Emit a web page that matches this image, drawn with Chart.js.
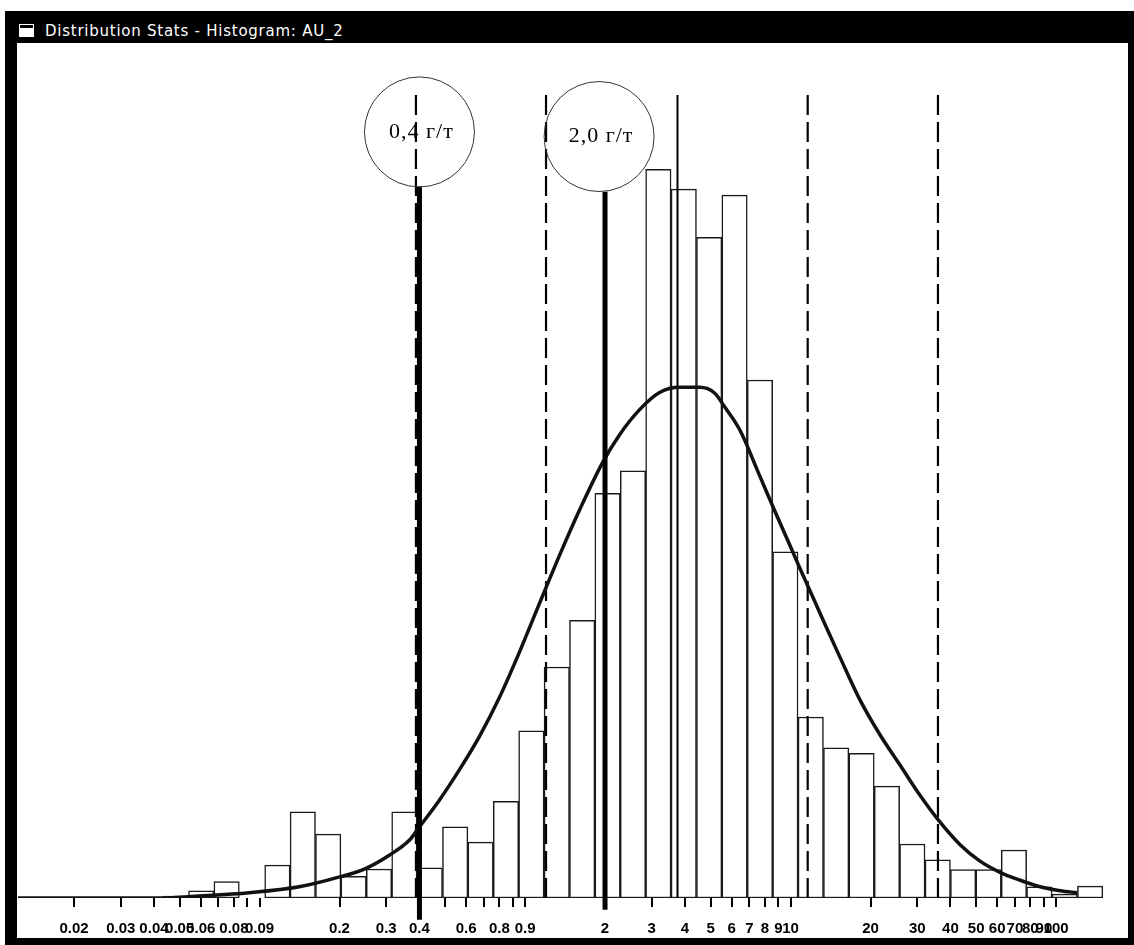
<!DOCTYPE html>
<html lang="en">
<head>
  <meta charset="UTF-8">
  <title>Distribution Stats - Histogram: AU_2</title>
  <script src="https://cdn.jsdelivr.net/npm/chart.js"></script>
  <style>
    body { margin: 0; background: #fff; }
    #win { position: absolute; left: 5px; top: 11px; width: 1129px; height: 934px; background: #000; }
    #icon { position: absolute; left: 15px; top: 14px; width: 13px; height: 8px; background: #fff; border-top: 3px solid #000; box-shadow: 0 0 0 1px #fff; }
    #title { position: absolute; left: 40px; top: 11px; color: #fff; font: 15px "DejaVu Sans", sans-serif; letter-spacing: 0.75px; white-space: nowrap; }
    #pane { position: absolute; left: 12px; top: 32px; width: 1111px; height: 895px; background: #fff; }
    #wrap { position: absolute; left: 0; top: 0; width: 1134px; height: 945px; }
  </style>
</head>
<body>
  <div id="win">
    <div id="icon"></div>
    <div id="title">Distribution Stats - Histogram: AU_2</div>
    <div id="pane"></div>
  </div>
  <div id="wrap"><canvas id="myChart" width="1134" height="945"></canvas></div>

  <script>
    // histogram bins: equal log steps from binFrom to binTo (g/t)
    const binFrom = 0.0433;
    const binTo = 150;
    // frequency, % of samples
    const freq = [0.03, 0.11, 0.25, 0, 0.50, 1.31, 0.97, 0.33, 0.44, 1.31,
                  0.46, 1.08, 0.85, 1.47, 2.54, 3.51, 4.22, 6.15, 6.49, 11.07,
                  10.77, 10.04, 10.68, 7.87, 5.26, 2.75, 2.28, 2.20, 1.70, 0.82,
                  0.58, 0.43, 0.43, 0.73, 0.17, 0.06, 0.18];

    // fitted curve
    const curveX = [0.0123, 0.0418, 0.0592, 0.0914, 0.141, 0.200, 0.248, 0.308, 0.367, 0.40,
                    0.476, 0.566, 0.674, 0.801, 0.953, 1.134, 1.349, 1.605, 1.96, 2.27,
                    2.70, 3.21, 3.82, 4.55, 5.18, 5.65, 6.44, 7.66, 8.72, 9.94,
                    10.84, 12.35, 13.82, 15.34, 18.25, 21.71, 25.83, 30.72, 35.93, 43.5,
                    51.7, 61.5, 73.2, 87.1, 103.6, 120.1];
    const curveY = [0, 0, 0.03, 0.08, 0.17, 0.32, 0.44, 0.65, 0.88, 1.08,
                    1.49, 1.95, 2.46, 3.05, 3.74, 4.48, 5.21, 5.90, 6.62, 7.04,
                    7.42, 7.68, 7.76, 7.76, 7.67, 7.46, 7.11, 6.41, 5.88, 5.36,
                    5.01, 4.50, 4.06, 3.66, 3.01, 2.48, 2.02, 1.56, 1.19, 0.81,
                    0.56, 0.39, 0.27, 0.17, 0.11, 0.08];

    // mean and +-1, +-2 sigma
    const dashedLines = [0.388, 1.199, 11.6, 35.9];
    const meanLine = 3.75;
    const statTop = 12.2;

    // cut-off grades
    const cutoffs = [0.4, 2.0];
    const cutoffLabels = ['0,4 г/т', '2,0 г/т'];
    const cutoffCircleX = [0.4, 1.9];
    const cutoffCircleY = [11.64, 11.57];
    const cutoffLineTop = [10.81, 10.73];
    const cutoffLineBottom = [-0.33, -0.18];

    const tickValues = [0.02, 0.03, 0.04, 0.05, 0.06, 0.07, 0.08, 0.09, 0.1, 0.2, 0.3, 0.4,
                        0.5, 0.6, 0.7, 0.8, 0.9, 1, 2, 3, 4, 5, 6, 7, 8, 9, 10,
                        20, 30, 40, 50, 60, 70, 80, 90, 100];
    const tickLabels = ['0.02', '0.03', '0.04', '0.05', '0.06', '', '0.08', '', '0.09', '0.2', '0.3', '0.4',
                        '', '0.6', '', '0.8', '', '0.9', '2', '3', '4', '5', '6', '7', '8', '9', '10',
                        '20', '30', '40', '50', '60', '70', '80', '90', '100'];

    const xMin = 0.0123;
    const xMax = 183.4;
    const yMax = 12.9;

    const step = Math.log10(binTo / binFrom) / freq.length;
    const bars = freq.map((f, i) => ({x: binFrom * Math.pow(10, (i + 0.5) * step), y: f}));

    const vline = (x, y0, y1, width, dash, order) => ({
      type: 'line',
      xAxisID: 'x',
      data: [{x: x, y: y0}, {x: x, y: y1}],
      borderColor: '#000',
      borderWidth: width,
      borderDash: dash,
      borderCapStyle: 'butt',
      pointRadius: 0,
      clip: false,
      order: order
    });

    const datasets = [];
    datasets.push({
      type: 'bar',
      data: bars,
      xAxisID: 'xb',
      grouped: false,
      backgroundColor: '#fff',
      borderColor: '#1a1a1a',
      borderWidth: 1.5,
      borderSkipped: false,
      barPercentage: 1,
      categoryPercentage: 1,
      order: 10
    });
    dashedLines.forEach(v => datasets.push(vline(v, 0, statTop, 2.2, [20, 7], 5)));
    datasets.push(vline(meanLine, 0, statTop, 2, [], 5));
    datasets.push({
      type: 'line',
      xAxisID: 'x',
      data: curveX.map((x, i) => ({x: x, y: curveY[i]})),
      borderColor: '#111',
      borderWidth: 3.5,
      cubicInterpolationMode: 'monotone',
      pointRadius: 0,
      order: 3
    });
    cutoffs.forEach((v, i) => datasets.push(vline(v, cutoffLineTop[i], cutoffLineBottom[i], 5, [], 2)));
    datasets.push({
      type: 'scatter',
      xAxisID: 'x',
      data: cutoffCircleX.map((x, i) => ({x: x, y: cutoffCircleY[i]})),
      pointRadius: 55,
      pointBorderWidth: 1,
      pointBorderColor: '#333',
      pointBackgroundColor: 'rgba(0,0,0,0)',
      clip: false,
      order: 1
    });

    const circleText = {
      id: 'circleText',
      afterDatasetsDraw(chart) {
        const {ctx, scales: {x, y}} = chart;
        ctx.save();
        ctx.fillStyle = '#000';
        ctx.font = '22px "Liberation Serif", "Times New Roman", serif';
        ctx.letterSpacing = '1px';
        ctx.textAlign = 'center';
        ctx.textBaseline = 'middle';
        cutoffLabels.forEach((t, i) => {
          ctx.fillText(t, x.getPixelForValue(cutoffCircleX[i]) + 2, y.getPixelForValue(cutoffCircleY[i]));
        });
        ctx.restore();
      }
    };

    const ctx = document.getElementById('myChart');

    new Chart(ctx, {
      data: {datasets: datasets},
      options: {
        responsive: false,
        animation: false,
        events: [],
        layout: {autoPadding: false, padding: {left: 18, right: 8, top: 49, bottom: 7}},
        plugins: {
          legend: {display: false},
          tooltip: {enabled: false}
        },
        scales: {
          x: {
            type: 'logarithmic',
            min: xMin,
            max: xMax,
            afterBuildTicks: (axis) => { axis.ticks = tickValues.map(v => ({value: v})); },
            afterFit: (axis) => { axis.height = 40; },
            border: {display: false},
            grid: {drawOnChartArea: false, drawTicks: true, tickLength: 9, color: '#000', lineWidth: 2},
            ticks: {
              autoSkip: false,
              maxRotation: 0,
              padding: 13,
              color: '#000',
              font: {family: '"Liberation Sans", Arial, sans-serif', size: 15, weight: 'bold'},
              callback: (value, index) => tickLabels[index]
            }
          },
          xb: {
            type: 'logarithmic',
            display: false,
            offset: false,
            grid: {offset: false},
            min: xMin,
            max: xMax,
            afterBuildTicks: (axis) => { axis.ticks = bars.map(b => ({value: b.x})); }
          },
          y: {
            type: 'linear',
            display: false,
            min: 0,
            max: yMax
          }
        }
      },
      plugins: [circleText]
    });
  </script>
</body>
</html>
